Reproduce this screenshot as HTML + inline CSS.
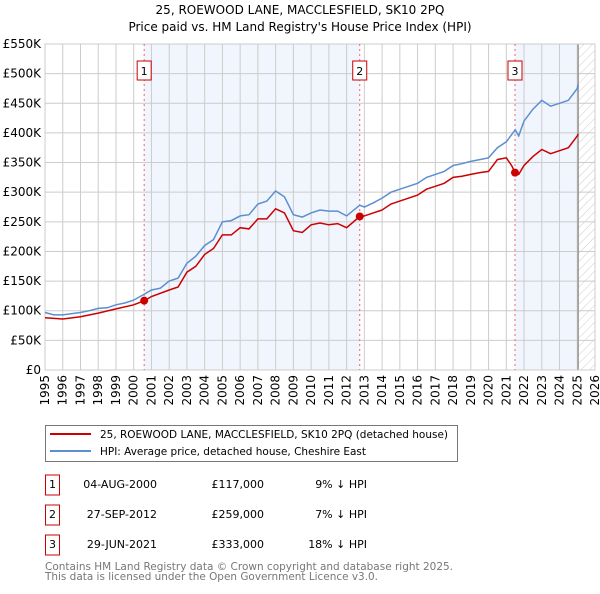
<!DOCTYPE html>
<html><head><meta charset="utf-8"><style>
body{margin:0;background:#fff;font-family:"DejaVu Sans","Liberation Sans",sans-serif}
svg text{font-family:"DejaVu Sans","Liberation Sans",sans-serif}
</style></head><body>
<svg id="chart" width="600" height="590" viewBox="0 0 600 590" xmlns="http://www.w3.org/2000/svg">
<defs><pattern id="hatch" width="6" height="6" patternUnits="userSpaceOnUse" patternTransform="rotate(45)"><line x1="0" y1="0" x2="0" y2="6" stroke="#ccc" stroke-width="1"/></pattern></defs>
<text x="300" y="14" text-anchor="middle" font-size="12">25, ROEWOOD LANE, MACCLESFIELD, SK10 2PQ</text>
<text x="300" y="31" text-anchor="middle" font-size="12">Price paid vs. HM Land Registry's House Price Index (HPI)</text>
<g id="plot"></g>
<g>
<rect x="45.5" y="425.5" width="412" height="36" fill="#fff" stroke="#777"/>
<line x1="50" y1="434" x2="91" y2="434" stroke="#cc0000" stroke-width="2"/>
<text x="100" y="438" font-size="11" textLength="348" lengthAdjust="spacingAndGlyphs">25, ROEWOOD LANE, MACCLESFIELD, SK10 2PQ (detached house)</text>
<line x1="50" y1="451" x2="91" y2="451" stroke="#5b8fd0" stroke-width="2"/>
<text x="100" y="455" font-size="11" textLength="266" lengthAdjust="spacingAndGlyphs">HPI: Average price, detached house, Cheshire East</text>
</g>
<g id="table" font-size="11"></g>
<text x="45" y="570" font-size="11" fill="#777" textLength="408" lengthAdjust="spacingAndGlyphs">Contains HM Land Registry data © Crown copyright and database right 2025.</text>
<text x="45" y="580" font-size="11" fill="#777" textLength="333" lengthAdjust="spacingAndGlyphs">This data is licensed under the Open Government Licence v3.0.</text>
</svg>
<script>
const hpiYears=[1995,1995.5,1996,1997,1997.5,1998,1998.5,1999,1999.5,2000,2000.6,2001,2001.5,2002,2002.5,2003,2003.5,2004,2004.5,2005,2005.5,2006,2006.5,2007,2007.5,2008,2008.5,2009,2009.5,2010,2010.5,2011,2011.5,2012,2012.74,2013,2013.5,2014,2014.5,2015,2016,2016.5,2017,2017.5,2018,2018.5,2019,2019.5,2020,2020.5,2021,2021.5,2021.7,2022,2022.5,2023,2023.5,2024,2024.5,2025,2025.05];
const hpiValues=[97,93,93,97,100,104,105,110,113,118,128,135,138,150,155,180,192,210,220,250,252,260,262,280,285,302,292,262,258,265,270,268,268,260,278,275,282,290,300,305,315,325,330,335,345,348,352,355,358,375,385,405,395,420,440,455,445,450,455,475,482];
const propYears=[1995,1996,1997,1998,1999,2000,2000.6,2001,2002,2002.5,2003,2003.5,2004,2004.5,2005,2005.5,2006,2006.5,2007,2007.5,2008,2008.5,2009,2009.5,2010,2010.5,2011,2011.5,2012,2012.74,2013,2013.5,2014,2014.5,2015,2016,2016.5,2017,2017.5,2018,2018.5,2019,2019.5,2020,2020.5,2021,2021.3,2021.5,2021.7,2022,2022.5,2023,2023.5,2024,2024.5,2025,2025.05];
const propValues=[88,86,90,96,103,110,117,124,135,140,165,175,195,205,228,228,240,238,255,255,272,265,235,232,245,248,245,247,240,259,260,265,270,280,285,295,305,310,315,325,327,330,333,335,355,358,345,333,330,345,360,372,365,370,375,395,398];
const saleLabels=["1","2","3"];
const saleYears=[2000.59,2012.74,2021.49];
const saleValues=[117,259,333];
const saleDates=["04-AUG-2000","27-SEP-2012","29-JUN-2021"];
const salePrices=["£117,000","£259,000","£333,000"];
const salePcts=["9% ↓ HPI","7% ↓ HPI","18% ↓ HPI"];
const yTicks=[0,50,100,150,200,250,300,350,400,450,500,550];
const yTickLabels=["£0","£50K","£100K","£150K","£200K","£250K","£300K","£350K","£400K","£450K","£500K","£550K"];
const xTicks=[1995,1996,1997,1998,1999,2000,2001,2002,2003,2004,2005,2006,2007,2008,2009,2010,2011,2012,2013,2014,2015,2016,2017,2018,2019,2020,2021,2022,2023,2024,2025,2026];
const dataEnd=2025.05;

const X0=45,X1=595,Y0=370,Y1=44;
const x=v=>X0+(v-1995)/(2026-1995)*(X1-X0);
const y=v=>Y0-v/550*(Y0-Y1);
const NS="http://www.w3.org/2000/svg";
function mk(p,t,a){const e=document.createElementNS(NS,t);for(const k in a)e.setAttribute(k,a[k]);p.appendChild(e);return e;}
const g=document.getElementById('plot');
let e;
e=mk(g,'rect',{x:x(saleYears[0]),y:Y1,width:x(saleYears[1])-x(saleYears[0]),height:Y0-Y1,fill:'#eef3fc',opacity:0.8});


e=mk(g,'rect',{x:x(saleYears[2]),y:Y1,width:x(dataEnd)-x(saleYears[2]),height:Y0-Y1,fill:'#eef3fc',opacity:0.8});


e=mk(g,'rect',{x:x(dataEnd),y:Y1,width:X1-x(dataEnd),height:Y0-Y1,fill:'url(#hatch)'});


yTicks.forEach((t,i)=>{
 e=mk(g,'line',{x1:X0,x2:X1,y1:y(t),y2:y(t),stroke:'#ccc','stroke-width':1});
 
 
 e=mk(g,'text',{x:X0-4,y:y(t)+4,'text-anchor':'end','font-size':12});
 e.textContent=yTickLabels[i];
 
 
});
xTicks.forEach(t=>{
 e=mk(g,'line',{x1:x(t),x2:x(t),y1:Y1,y2:Y0,stroke:'#ccc','stroke-width':1});
 
 
 e=mk(g,'text',{x:0,y:0,'text-anchor':'end','font-size':12,transform:`translate(${x(t)+4},${Y0+5}) rotate(-90)`});
 e.textContent=t;
 
 
});
e=mk(g,'line',{x1:x(dataEnd),x2:x(dataEnd),y1:Y1,y2:Y0,stroke:'#999','stroke-width':1.5});


e=mk(g,'rect',{x:X0,y:Y1,width:X1-X0,height:Y0-Y1,fill:'none',stroke:'#ccc'});


saleYears.forEach((s,i)=>{
 e=mk(g,'line',{x1:x(s),x2:x(s),y1:Y1,y2:Y0,stroke:'#e66','stroke-width':1,'stroke-dasharray':'2,3'});
 
 
 e=mk(g,'rect',{x:x(s)-7,y:61,width:14,height:19,fill:'#fff',stroke:'#c00'});
 
 
 e=mk(g,'text',{x:x(s),y:75,'text-anchor':'middle','font-size':11});
 e.textContent=saleLabels[i];
 
 
});
const path=(xs,vs)=>xs.map((t,i)=>(i?'L':'M')+x(t).toFixed(1)+','+y(vs[i]).toFixed(1)).join('');
e=mk(g,'path',{d:path(hpiYears,hpiValues),fill:'none',stroke:'#5b8fd0','stroke-width':1.5});


e=mk(g,'path',{d:path(propYears,propValues),fill:'none',stroke:'#cc0000','stroke-width':1.5});


saleYears.forEach((s,i)=>{
 e=mk(g,'circle',{cx:x(s),cy:y(saleValues[i]),r:4,fill:'#cc0000'});
 
 
});
const tb=document.getElementById('table');
saleLabels.forEach((l,i)=>{
 const cy=485+i*30;
 e=mk(tb,'rect',{x:45.5,y:cy-10,width:14,height:20,fill:'#fff',stroke:'#c00'});
 
 
 e=mk(tb,'text',{x:52.5,y:cy+3,'text-anchor':'middle'});e.textContent=l;
 
 
 e=mk(tb,'text',{x:157,y:cy+3,'text-anchor':'end'});e.textContent=saleDates[i];
 
 
 e=mk(tb,'text',{x:264,y:cy+3,'text-anchor':'end'});e.textContent=salePrices[i];
 
 
 e=mk(tb,'text',{x:367,y:cy+3,'text-anchor':'end'});e.textContent=salePcts[i];
 
 
});
</script>
</body></html>
